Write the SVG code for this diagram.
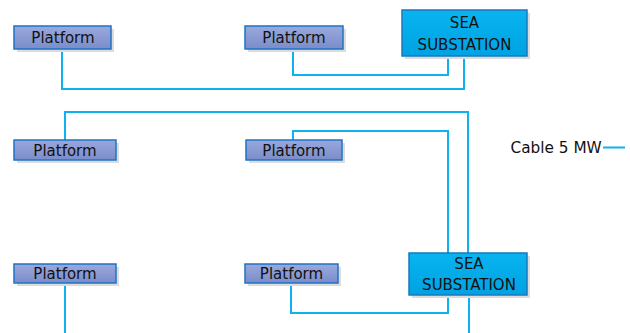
<svg xmlns="http://www.w3.org/2000/svg" width="630" height="333" viewBox="0 0 630 333">
<defs>
<linearGradient id="gp" x1="0" y1="0" x2="0" y2="1">
<stop offset="0" stop-color="#9AA8DC"/>
<stop offset="1" stop-color="#7A8DCA"/>
</linearGradient>
<linearGradient id="gs" x1="0" y1="0" x2="0" y2="1">
<stop offset="0" stop-color="#08B4F0"/>
<stop offset="1" stop-color="#00A2E2"/>
</linearGradient>
</defs>
<style>
.shadow{fill:#DCDCDC;}
.plat{fill:url(#gp);stroke:#1E73C6;stroke-width:1.5;}
.sub{fill:url(#gs);stroke:#1A78BC;stroke-width:1.5;}
.t{font-family:"DejaVu Sans",sans-serif;font-size:15px;fill:#111;text-anchor:middle;}
.c{fill:none;stroke:#0DB2EE;stroke-width:2;}
</style>
<rect width="630" height="333" fill="#FFFFFF"/>
<g id="connectors">
<path class="c" d="M62,49 V89 H464 V56"/>
<path class="c" d="M293,49 V75 H448 V56"/>
<path class="c" d="M65,140 V112 H468 V253"/>
<path class="c" d="M293,140 V131 H448 V253"/>
<path class="c" d="M65,283 V333"/>
<path class="c" d="M291,283 V313 H448 V295"/>
<path class="c" d="M469,295 V333"/>
</g>
<g id="platform1">
<rect class="shadow" x="17" y="29" width="97" height="23"/>
<rect class="plat" x="14" y="26" width="97" height="23"/>
<text class="t" x="63" y="42.5">Platform</text>
</g>
<g id="platform2">
<rect class="shadow" x="248" y="29" width="98" height="23"/>
<rect class="plat" x="245" y="26" width="98" height="23"/>
<text class="t" x="294" y="42.5">Platform</text>
</g>
<g id="substation1">
<rect class="shadow" x="405" y="13" width="125" height="46"/>
<rect class="sub" x="402" y="10" width="125" height="46"/>
<text class="t" x="464.5" y="28">SEA</text>
<text class="t" x="464.5" y="49.5">SUBSTATION</text>
</g>
<g id="platform3">
<rect class="shadow" x="17" y="143" width="102" height="20"/>
<rect class="plat" x="14" y="140" width="102" height="20"/>
<text class="t" x="65" y="155.5">Platform</text>
</g>
<g id="platform4">
<rect class="shadow" x="249" y="143" width="96" height="20"/>
<rect class="plat" x="246" y="140" width="96" height="20"/>
<text class="t" x="294" y="155.5">Platform</text>
</g>
<g id="substation2">
<rect class="shadow" x="412" y="256" width="118" height="42"/>
<rect class="sub" x="409" y="253" width="118" height="42"/>
<text class="t" x="469" y="268.5">SEA</text>
<text class="t" x="469" y="290">SUBSTATION</text>
</g>
<g id="platform5">
<rect class="shadow" x="17" y="267" width="102" height="19"/>
<rect class="plat" x="14" y="264" width="102" height="19"/>
<text class="t" x="65" y="279.3">Platform</text>
</g>
<g id="platform6">
<rect class="shadow" x="248" y="267" width="93" height="19"/>
<rect class="plat" x="245" y="264" width="93" height="19"/>
<text class="t" x="291.5" y="279.3">Platform</text>
</g>
<g id="legend">
<text x="510.5" y="152.7" style="font-family:'DejaVu Sans',sans-serif;font-size:15.3px;fill:#111;">Cable 5 MW</text>
<line class="c" x1="603" y1="147.5" x2="625" y2="147.5"/>
</g>
</svg>
